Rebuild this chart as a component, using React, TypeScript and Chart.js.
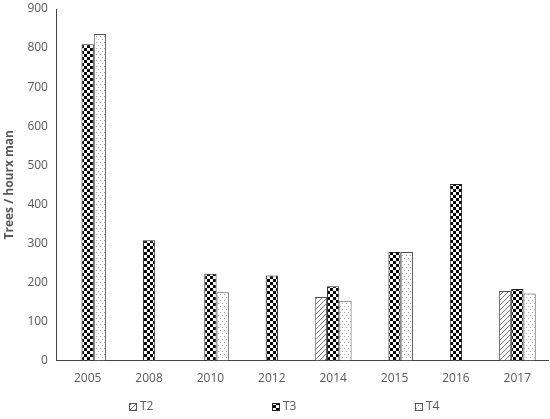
import React, { useEffect, useRef } from "react";
import { Chart, registerables } from "chart.js";

Chart.register(...registerables);

const categories = ["2005", "2008", "2010", "2012", "2014", "2015", "2016", "2017"];
const t2Values: (number | null)[] = [null, null, null, null, 163, null, null, 178];
const t3Values: (number | null)[] = [810, 308, 222, 218, 190, 278, 452, 183];
const t4Values: (number | null)[] = [836, null, 175, null, 153, 278, null, 172];
const seriesNames = ["T2", "T3", "T4"];

const FONT = "'Open Sans', 'Liberation Sans', sans-serif";
const TEXT = "#595959";

function makePattern(kind: string): CanvasPattern | string {
  const c = document.createElement("canvas");
  const ctx = c.getContext("2d");
  if (!ctx) return "#fff";
  if (kind === "hatch") {
    c.width = 5; c.height = 5;
    ctx.fillStyle = "#fff";
    ctx.fillRect(0, 0, 5, 5);
    ctx.strokeStyle = "#7a7a7a";
    ctx.lineWidth = 1;
    ctx.beginPath();
    ctx.moveTo(0, 5); ctx.lineTo(5, 0);
    ctx.moveTo(-1, 1); ctx.lineTo(1, -1);
    ctx.moveTo(4, 6); ctx.lineTo(6, 4);
    ctx.stroke();
  } else if (kind === "check") {
    c.width = 6; c.height = 6;
    ctx.fillStyle = "#fff";
    ctx.fillRect(0, 0, 6, 6);
    ctx.fillStyle = "#000";
    ctx.fillRect(0, 0, 3, 3);
    ctx.fillRect(3, 3, 3, 3);
  } else {
    c.width = 4; c.height = 6;
    ctx.fillStyle = "#fff";
    ctx.fillRect(0, 0, 4, 6);
    ctx.fillStyle = "#a0a0a0";
    ctx.fillRect(0, 0, 1, 1);
    ctx.fillRect(2, 3, 1, 1);
  }
  return ctx.createPattern(c, "repeat") || "#fff";
}

const spreadLegend = {
  id: "spreadLegend",
  afterDraw(chart: any) {
    const ctx = chart.ctx;
    const sets = chart.data.datasets;
    const spacing = 143;
    const n = sets.length;
    const cx = chart.width / 2 - 3;
    const y = chart.height - 12;
    ctx.save();
    ctx.font = `12px ${FONT}`;
    ctx.textBaseline = "middle";
    ctx.textAlign = "left";
    sets.forEach((ds: any, i: number) => {
      const x = Math.round(cx + (i - (n - 1) / 2) * spacing);
      ctx.fillStyle = ds.backgroundColor;
      ctx.fillRect(x, y - 4, 8, 8);
      ctx.strokeStyle = ds.borderColor;
      ctx.lineWidth = 1;
      ctx.strokeRect(x + 0.5, y - 3.5, 7, 7);
      ctx.fillStyle = TEXT;
      ctx.fillText(ds.label, x + 11, y);
    });
    ctx.restore();
  },
};

export default function App() {
  const ref = useRef<HTMLCanvasElement>(null);
  useEffect(() => {
    document.body.style.margin = "0";
    if (!ref.current) return;
    const chart = new Chart(ref.current, {
      type: "bar",
      data: {
        labels: categories,
        datasets: [
          { label: seriesNames[0], data: t2Values, backgroundColor: makePattern("hatch"), borderColor: "#555", borderWidth: 1 },
          { label: seriesNames[1], data: t3Values, backgroundColor: makePattern("check"), borderColor: "#222", borderWidth: 1 },
          { label: seriesNames[2], data: t4Values, backgroundColor: makePattern("dots"), borderColor: "#555", borderWidth: 1 },
        ],
      },
      options: {
        animation: false,
        responsive: false,
        layout: { padding: { left: 0, right: 2, top: 0, bottom: 22 } },
        datasets: { bar: { categoryPercentage: 0.6, barPercentage: 1 } },
        plugins: {
          tooltip: { enabled: false },
          legend: { display: false },
        },
        scales: {
          x: {
            grid: { display: false, drawTicks: false },
            border: { color: "#444", width: 1 },
            ticks: { color: TEXT, font: { family: FONT, size: 12 }, padding: 11 },
          },
          y: {
            min: 0,
            max: 900,
            afterFit: (scale: any) => { scale.paddingTop = 9; },
            grid: { display: false, drawTicks: false },
            border: { color: "#444", width: 1 },
            ticks: { stepSize: 100, color: TEXT, font: { family: FONT, size: 12 }, padding: 9 },
            title: { display: true, text: "Trees / hourx man", color: TEXT, padding: { top: 2, bottom: 2 }, font: { family: FONT, size: 12, weight: "bold" } },
          },
        },
      },
      plugins: [spreadLegend],
    });
    return () => chart.destroy();
  }, []);
  return <canvas ref={ref} width={550} height={419} />;
}
